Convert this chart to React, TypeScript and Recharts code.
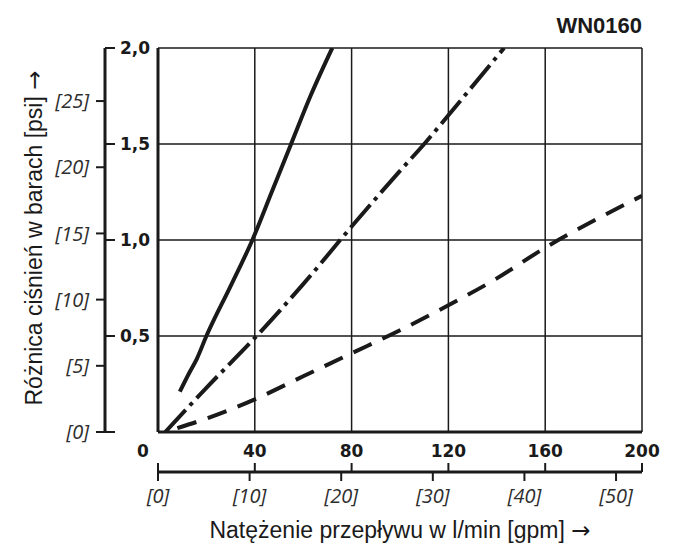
import { LineChart, Line, XAxis, YAxis, CartesianGrid } from "recharts";

// pressure drop curves (flow in l/min, drop in bar)
const flowSolid = [9, 13, 16, 20, 30, 39, 47, 55, 63, 72];
const dropSolid = [0.21, 0.31, 0.38, 0.5, 0.76, 1.0, 1.25, 1.5, 1.75, 2.0];

const flowDashDot = [3, 20, 40, 60, 80, 100, 110, 120, 143];
const dropDashDot = [0, 0.23, 0.49, 0.77, 1.07, 1.36, 1.5, 1.65, 2.0];

const flowDashed = [8, 20, 40, 60, 80, 100, 120, 140, 160, 180, 200];
const dropDashed = [0.02, 0.07, 0.17, 0.29, 0.41, 0.53, 0.66, 0.8, 0.96, 1.1, 1.23];

const lpmTicks = [0, 40, 80, 120, 160, 200];
const gpmTicks = [0, 10, 20, 30, 40, 50];
const barTicks = [0, 0.5, 1, 1.5, 2];
const psiTicks = [0, 5, 10, 15, 20, 25];

const LPM_PER_GPM = 3.7854;
const PSI_PER_BAR = 14.5038;

const INK = "#1a1a1a";
const GREY = "#2e2e2e";

const toPoints = (flow: number[], drop: number[]) =>
  flow.map((q, i) => ({ q, dp: drop[i] }));

const LpmTick = ({ x, y, payload }: any) => (
  <g>
    <line x1={x} y1={y + 31} x2={x} y2={y + 40} stroke={INK} strokeWidth={2} />
    <text
      x={payload.value === 0 ? x - 15 : x}
      y={y + 25}
      textAnchor="middle"
      fontFamily="DejaVu Sans"
      fontWeight="bold"
      fontSize={17}
      fill={INK}
    >
      {payload.value}
    </text>
  </g>
);

const GpmTick = ({ x, y, payload }: any) => (
  <text
    x={x}
    y={y + 22}
    textAnchor="middle"
    fontFamily="Open Sans"
    fontStyle="italic"
    fontSize={20}
    fill={GREY}
  >
    [{payload.value}]
  </text>
);

const BarTick = ({ x, y, payload }: any) => (
  <g>
    <line x1={x - 53} y1={y} x2={x - 43} y2={y} stroke={INK} strokeWidth={2} />
    {payload.value > 0 && (
      <text
        x={x - 8}
        y={y}
        dy="0.36em"
        textAnchor="end"
        fontFamily="DejaVu Sans"
        fontWeight="bold"
        fontSize={17}
        fill={INK}
      >
        {payload.value.toFixed(1).replace(".", ",")}
      </text>
    )}
  </g>
);

const PsiTick = ({ x, y, payload }: any) => (
  <text
    x={x - 7}
    y={y}
    dy="0.36em"
    textAnchor="end"
    fontFamily="Open Sans"
    fontStyle="italic"
    fontSize={20}
    fill={GREY}
  >
    [{payload.value}]
  </text>
);

export default function App() {
  return (
    <div style={{ position: "absolute", left: 0, top: 0, width: 676, height: 548, background: "#fff" }}>
      <LineChart
        width={676}
        height={548}
        margin={{ top: 48, right: 34, bottom: 36, left: 55 }}
      >
        <CartesianGrid xAxisId="x1" yAxisId="bar" stroke={INK} strokeWidth={1.5} />
        <XAxis
          xAxisId="x1"
          type="number"
          dataKey="q"
          domain={[0, 200]}
          ticks={lpmTicks}
          interval={0}
          allowDataOverflow
          height={40}
          axisLine={{ stroke: INK, strokeWidth: 3 }}
          tickLine={false}
          tickSize={0}
          tickMargin={0}
          tick={<LpmTick />}
        />
        <XAxis
          xAxisId="x2"
          type="number"
          dataKey="q"
          domain={[0, 200 / LPM_PER_GPM]}
          ticks={gpmTicks}
          interval={0}
          allowDataOverflow
          height={40}
          axisLine={{ stroke: INK, strokeWidth: 3 }}
          tickLine={{ stroke: INK, strokeWidth: 2 }}
          tickSize={9}
          tickMargin={0}
          tick={<GpmTick />}
        />
        <YAxis
          yAxisId="bar"
          type="number"
          domain={[0, 2]}
          ticks={barTicks}
          interval={0}
          allowDataOverflow
          width={53}
          axisLine={{ stroke: INK, strokeWidth: 3 }}
          tickLine={false}
          tickSize={0}
          tickMargin={0}
          tick={<BarTick />}
        />
        <YAxis
          yAxisId="psi"
          type="number"
          domain={[0, 2 * PSI_PER_BAR]}
          ticks={psiTicks}
          interval={0}
          allowDataOverflow
          width={50}
          axisLine={{ stroke: INK, strokeWidth: 3 }}
          tickLine={{ stroke: INK, strokeWidth: 2 }}
          tickSize={9}
          tickMargin={0}
          tick={<PsiTick />}
        />
        <Line
          xAxisId="x1"
          yAxisId="bar"
          data={toPoints(flowSolid, dropSolid)}
          dataKey="dp"
          type="monotone"
          stroke={INK}
          strokeWidth={4}
          dot={false}
          isAnimationActive={false}
        />
        <Line
          xAxisId="x1"
          yAxisId="bar"
          data={toPoints(flowDashDot, dropDashDot)}
          dataKey="dp"
          type="monotone"
          stroke={INK}
          strokeWidth={4}
          strokeDasharray="30 6 4 6"
          dot={false}
          isAnimationActive={false}
        />
        <Line
          xAxisId="x1"
          yAxisId="bar"
          data={toPoints(flowDashed, dropDashed)}
          dataKey="dp"
          type="monotone"
          stroke={INK}
          strokeWidth={4}
          strokeDasharray="20 12"
          dot={false}
          isAnimationActive={false}
        />
      </LineChart>
      <svg
        width={676}
        height={548}
        style={{ position: "absolute", left: 0, top: 0, pointerEvents: "none" }}
      >
        <text x={642} y={33} textAnchor="end" fontFamily="Liberation Sans" fontWeight="bold" fontSize={22} fill={INK}>
          WN0160
        </text>
        <text x={400} y={538} textAnchor="middle" fontFamily="Liberation Sans" fontSize={23} fill={INK}>
          Natężenie przepływu w l/min [gpm] <tspan fontFamily="DejaVu Sans">→</tspan>
        </text>
        <text
          x={0}
          y={0}
          transform="translate(42 238) rotate(-90)"
          textAnchor="middle"
          fontFamily="Liberation Sans"
          fontSize={23}
          fill={INK}
        >
          Różnica ciśnień w barach [psi] <tspan fontFamily="DejaVu Sans">→</tspan>
        </text>
      </svg>
    </div>
  );
}
